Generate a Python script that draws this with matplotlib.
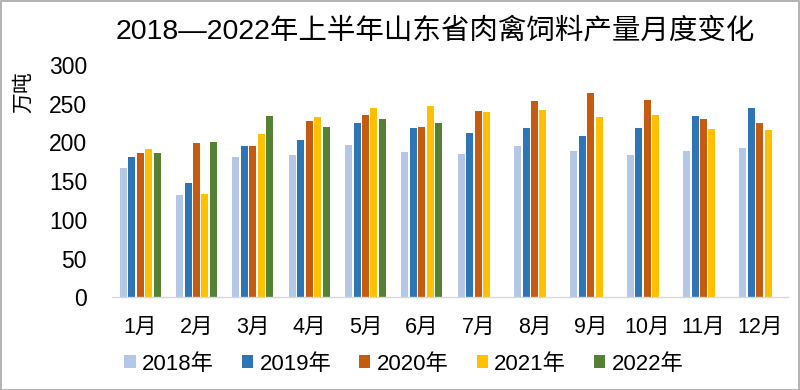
import matplotlib
matplotlib.use("Agg")
import matplotlib.pyplot as plt
import numpy as np
from matplotlib.patches import Rectangle

plt.rcParams['font.family'] = ['Liberation Sans', 'Noto Sans CJK SC', 'DejaVu Sans']

months = ['1月', '2月', '3月', '4月', '5月', '6月', '7月', '8月', '9月', '10月', '11月', '12月']
years = ['2018年', '2019年', '2020年', '2021年', '2022年']
v2018 = [167, 132, 181, 184, 197, 188, 185, 196, 189, 184, 189, 193]
v2019 = [181, 148, 195, 203, 225, 219, 212, 219, 208, 219, 234, 245]
v2020 = [186, 199, 196, 228, 235, 220, 241, 254, 264, 255, 231, 225]
v2021 = [191, 133, 211, 233, 245, 247, 239, 242, 233, 235, 218, 216]
v2022 = [186, 200, 234, 220, 231, 225, np.nan, np.nan, np.nan, np.nan, np.nan, np.nan]
series = [v2018, v2019, v2020, v2021, v2022]
colors = ['#B4C7E7', '#2E75B6', '#C55A11', '#FFC000', '#548235']

fig = plt.figure(figsize=(8, 3.9), dpi=100)
ax = fig.add_axes([0.14, 0.238, 0.845, 0.595])

x = np.arange(len(months))
slot = 0.15
bw = 0.125
for i, (vals, c, lab) in enumerate(zip(series, colors, years)):
    ax.bar(x + (i - 2) * slot, vals, width=bw, color=c, label=lab, zorder=2)

ax.set_xlim(-0.5, len(months) - 0.5)
ax.set_ylim(0, 300)
ax.set_yticks(np.arange(0, 301, 50))
ax.set_xticks(x)
ax.set_xticklabels(months)
ax.tick_params(axis='y', length=0, labelsize=16.5, pad=18)
ax.tick_params(axis='x', length=0, labelsize=15.5, pad=14)
for s in ['top', 'right', 'left']:
    ax.spines[s].set_visible(False)
ax.spines['bottom'].set_color('#D9D9D9')
ax.spines['bottom'].set_linewidth(1)

fig.text(0.544, 0.92, '2018—2022年上半年山东省肉禽饲料产量月度变化',
         ha='center', va='center', fontsize=20.5, color='#000000')
fig.text(0.029, 0.764, '万吨', rotation=90, ha='center', va='center', fontsize=15)

leg = fig.legend(loc='center', bbox_to_anchor=(0.505, 1 - 364 / 390), ncol=5,
                 frameon=False, fontsize=16, handlelength=0.5, handleheight=0.5,
                 handletextpad=0.3, columnspacing=1.25)

fig.patches.append(Rectangle((0.001, 0.001), 0.998, 0.997, transform=fig.transFigure,
                             fill=False, edgecolor='#A6A6A6', linewidth=1.2))

fig.savefig('out.png', dpi=100)
